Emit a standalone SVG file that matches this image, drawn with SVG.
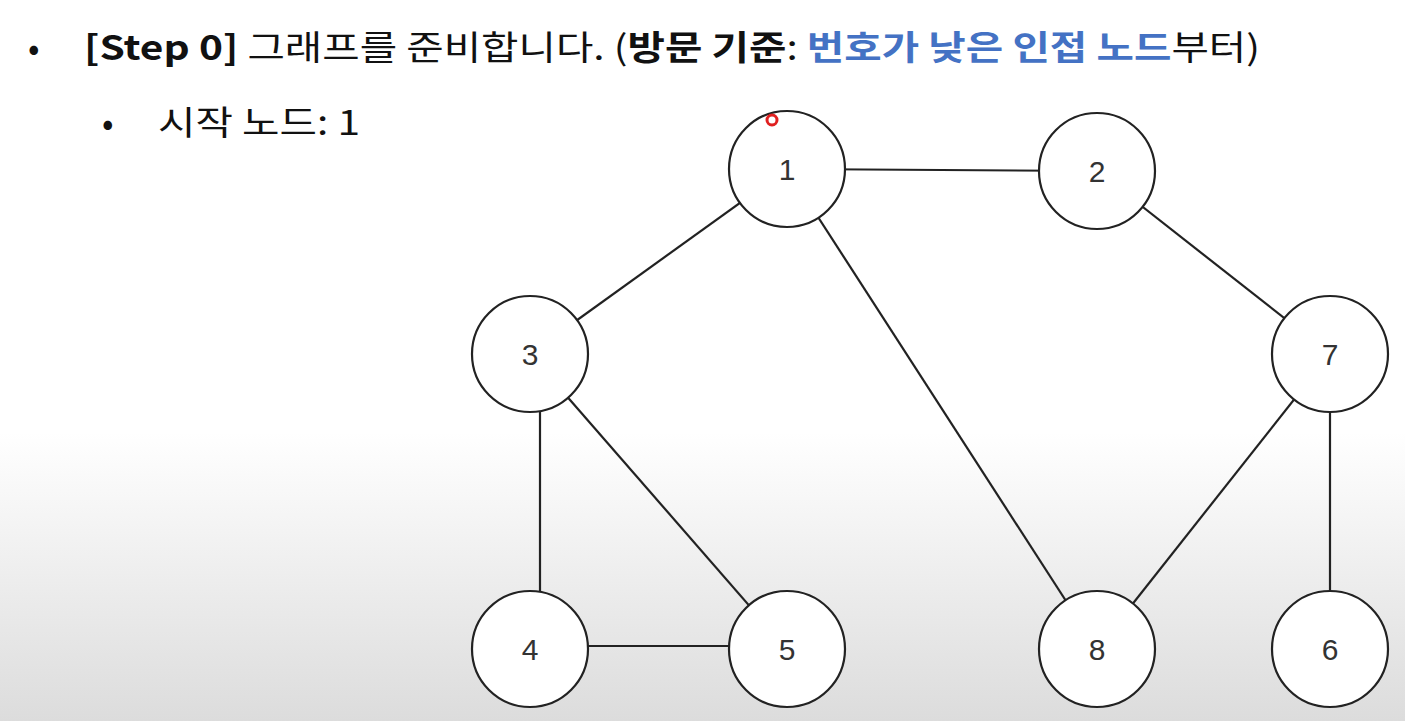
<svg xmlns="http://www.w3.org/2000/svg" width="1405" height="721" viewBox="0 0 1405 721">
<defs>
<linearGradient id="bg" x1="0" y1="0" x2="0" y2="1">
<stop offset="0" stop-color="#ffffff"/><stop offset="0.6" stop-color="#ffffff"/><stop offset="1" stop-color="#dcdcdc"/>
</linearGradient>
</defs>
<style>
.t{font-family:"Noto Sans CJK KR","Noto Sans",sans-serif;font-size:34px;fill:#111}
.b{font-weight:bold}
.blue{fill:#4472c4;font-weight:bold}
.n circle{fill:#fff;stroke:#222;stroke-width:2.2}
.n text{font-family:"Liberation Sans",Arial,sans-serif;font-size:30px;fill:#333;text-anchor:middle}
#edges line{stroke:#222;stroke-width:2.2}
</style>
<rect width="1405" height="721" fill="url(#bg)"/>
<text class="t" x="28" y="60">•</text>
<text class="t" x="84" y="60" textLength="1176" lengthAdjust="spacingAndGlyphs"><tspan class="b">[Step 0]</tspan> 그래프를 준비합니다. (<tspan class="b">방문 기준</tspan>: <tspan class="blue">번호가 낮은 인접 노드</tspan>부터)</text>
<text class="t" x="102" y="135">•</text>
<text class="t" x="158" y="135" textLength="202" lengthAdjust="spacingAndGlyphs">시작 노드: 1</text>
<g id="edges">
<line x1="787" y1="169" x2="1097" y2="171"/>
<line x1="787" y1="169" x2="530" y2="354"/>
<line x1="787" y1="169" x2="1097" y2="649"/>
<line x1="1097" y1="171" x2="1330" y2="354"/>
<line x1="540" y1="354" x2="540" y2="649"/>
<line x1="530" y1="354" x2="787" y2="649"/>
<line x1="530" y1="646" x2="787" y2="646"/>
<line x1="1330" y1="354" x2="1097" y2="649"/>
<line x1="1330" y1="354" x2="1330" y2="649"/>
</g>
<g id="n1" class="n"><circle cx="787" cy="169" r="58"/><text x="787" y="180">1</text></g>
<g id="n2" class="n"><circle cx="1097" cy="171" r="58"/><text x="1097" y="182">2</text></g>
<g id="n3" class="n"><circle cx="530" cy="354" r="58"/><text x="530" y="365">3</text></g>
<g id="n7" class="n"><circle cx="1330" cy="354" r="58"/><text x="1330" y="365">7</text></g>
<g id="n4" class="n"><circle cx="530" cy="649" r="58"/><text x="530" y="660">4</text></g>
<g id="n5" class="n"><circle cx="787" cy="649" r="58"/><text x="787" y="660">5</text></g>
<g id="n8" class="n"><circle cx="1097" cy="649" r="58"/><text x="1097" y="660">8</text></g>
<g id="n6" class="n"><circle cx="1330" cy="649" r="58"/><text x="1330" y="660">6</text></g>
<circle cx="772" cy="120" r="5" fill="none" stroke="#e02020" stroke-width="3"/>
</svg>
